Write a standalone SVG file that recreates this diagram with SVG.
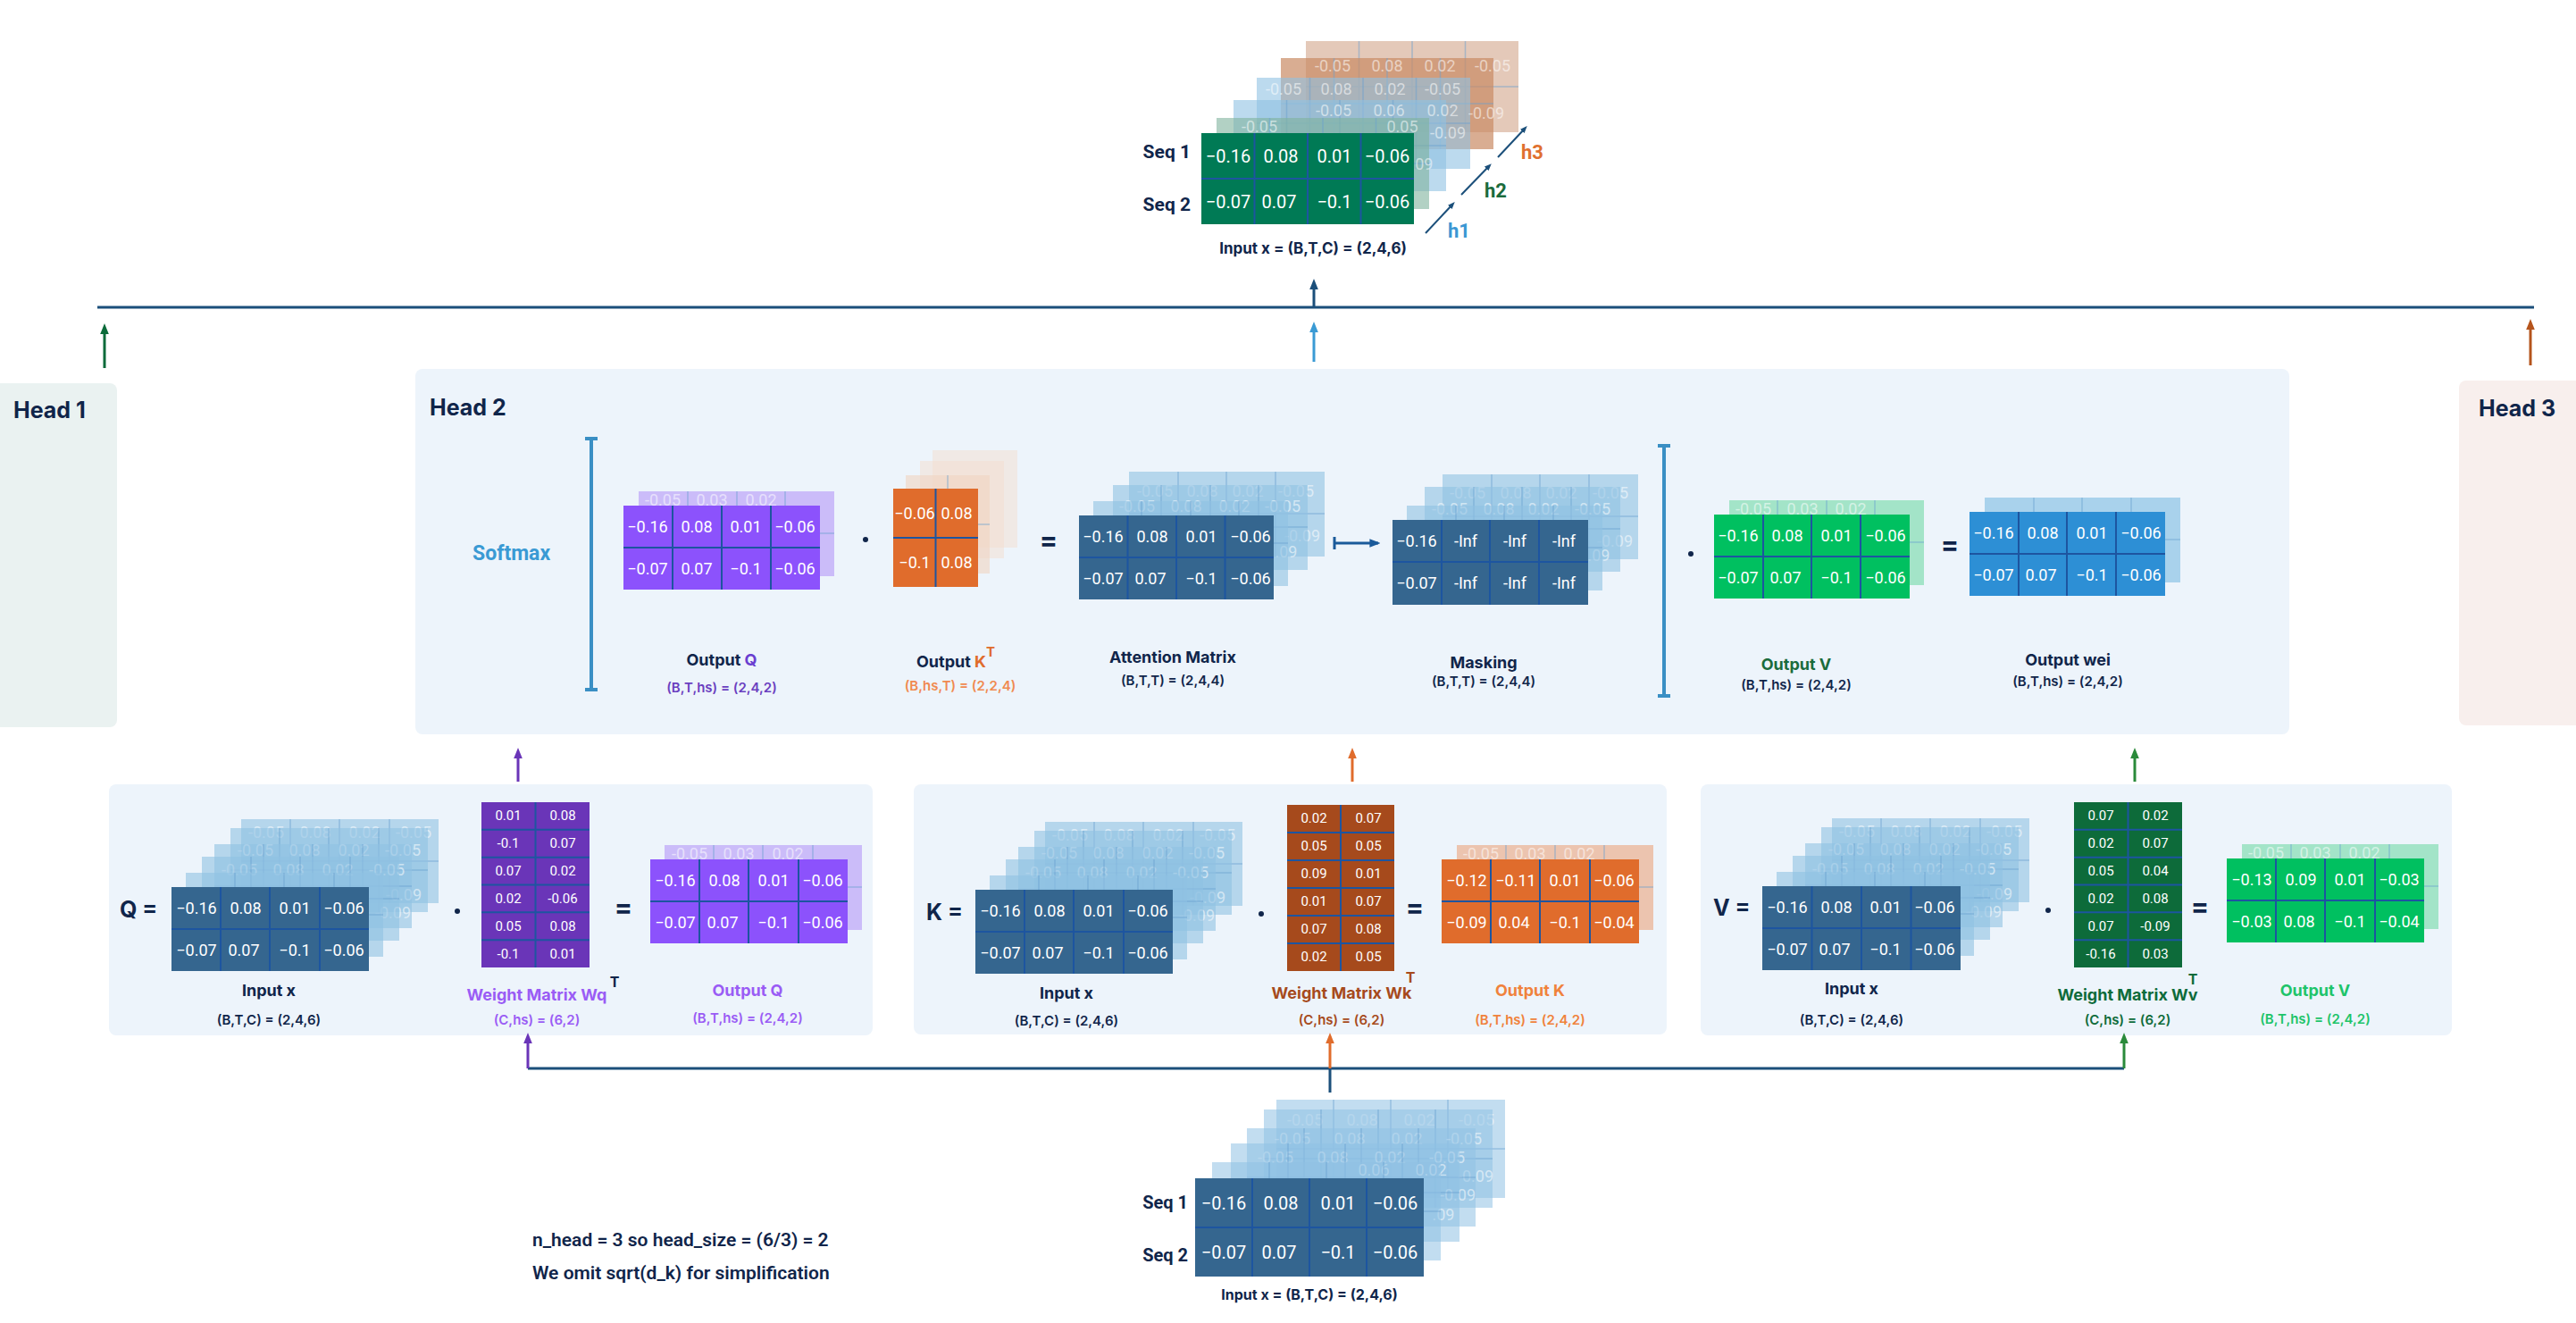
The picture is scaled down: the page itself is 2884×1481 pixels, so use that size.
<svg xmlns="http://www.w3.org/2000/svg" width="2884" height="1481" viewBox="0 0 2884 1481">
<style>
text{font-family:Roboto,"Liberation Sans",sans-serif}
.lb{font-family:Inter,"Liberation Sans",sans-serif;font-weight:700;font-size:18px;fill:#10254a;text-anchor:middle}
.dm{font-family:Inter,"Liberation Sans",sans-serif;font-weight:600;font-size:15px;fill:#10254a;text-anchor:middle}
.hd{font-family:Inter,"Liberation Sans",sans-serif;font-weight:700;font-size:25px;fill:#10254a}
.ft{fill:#fff;font-size:18px;text-anchor:middle}
.fb{fill:#fff;font-size:20px;text-anchor:middle}
.fs{fill:#fff;font-size:15px;text-anchor:middle}
.bt{fill:#fff;fill-opacity:.55;font-size:18px;text-anchor:middle}
.bk{fill:#8fc1e3;fill-opacity:.6}
.gl{fill:none;stroke:#1d55a0;stroke-width:2}
.gb{fill:none;stroke:#6a9fcf;stroke-opacity:.5;stroke-width:1.5}
.op{font-family:Inter,"Liberation Sans",sans-serif;font-weight:700;font-size:30px;fill:#10254a;text-anchor:middle}
</style>
<defs>
<marker id="aD" viewBox="0 0 10 10" refX="5" refY="5" markerWidth="4" markerHeight="4" orient="auto"><path d="M0,1L10,5L0,9z" fill="#1b4f7a"/></marker>
<marker id="aG" viewBox="0 0 10 10" refX="5" refY="5" markerWidth="4" markerHeight="4" orient="auto"><path d="M0,1L10,5L0,9z" fill="#0b6b3a"/></marker>
<marker id="aB" viewBox="0 0 10 10" refX="5" refY="5" markerWidth="4" markerHeight="4" orient="auto"><path d="M0,1L10,5L0,9z" fill="#3a9ad4"/></marker>
<marker id="aO" viewBox="0 0 10 10" refX="5" refY="5" markerWidth="4" markerHeight="4" orient="auto"><path d="M0,1L10,5L0,9z" fill="#b5541c"/></marker>
<marker id="aP" viewBox="0 0 10 10" refX="5" refY="5" markerWidth="4" markerHeight="4" orient="auto"><path d="M0,1L10,5L0,9z" fill="#6a35b8"/></marker>
<marker id="aO2" viewBox="0 0 10 10" refX="5" refY="5" markerWidth="4" markerHeight="4" orient="auto"><path d="M0,1L10,5L0,9z" fill="#e06c2c"/></marker>
<marker id="aG2" viewBox="0 0 10 10" refX="5" refY="5" markerWidth="4" markerHeight="4" orient="auto"><path d="M0,1L10,5L0,9z" fill="#2a8a3a"/></marker>
<marker id="aS" viewBox="0 0 10 10" refX="8" refY="5" markerWidth="4" markerHeight="4" orient="auto"><path d="M0,1L10,5L0,9z" fill="#1a5a9a"/></marker>
</defs>
<rect width="2884" height="1481" fill="#fff"/>

<g id="head1"><rect x="-10" y="429" width="141" height="385" rx="8" fill="#eaf2f1"/><text class="hd" x="15" y="468">Head 1</text></g>
<g id="head3"><rect x="2753" y="426" width="141" height="386" rx="8" fill="#f8efed"/><text class="hd" x="2775" y="466">Head 3</text></g>
<g id="head2"><rect x="465" y="413" width="2098" height="409" rx="8" fill="#edf4fb"/><text class="hd" x="481" y="465">Head 2</text>
<text x="529" y="627" font-size="23" font-weight="700" fill="#3a9ad4" font-family="Inter,'Liberation Sans',sans-serif">Softmax</text>
<path d="M662,491V772M655,491H669M655,772H669" stroke="#3a8fc4" stroke-width="4" fill="none"/>
<path d="M1863,499V779M1856,499H1870M1856,779H1870" stroke="#3a8fc4" stroke-width="4" fill="none"/>
</g>
<rect x="122" y="878" width="855" height="281" rx="8" fill="#edf4fb"/>
<rect x="1023" y="878" width="843" height="280" rx="8" fill="#edf4fb"/>
<rect x="1904" y="878" width="841" height="281" rx="8" fill="#edf4fb"/>

<g id="connectors" fill="none" stroke-width="3">
<path d="M109,344H2837" stroke="#1b4f7a"/>
<path d="M1471,344V318" stroke="#1b4f7a" marker-end="url(#aD)"/>
<path d="M117,412V368" stroke="#0b6b3a" marker-end="url(#aG)"/>
<path d="M1471,405V366" stroke="#3a9ad4" marker-end="url(#aB)"/>
<path d="M2833,409V363" stroke="#b5541c" marker-end="url(#aO)"/>
<path d="M580,875V843" stroke="#6a35b8" marker-end="url(#aP)"/>
<path d="M1514,875V843" stroke="#e06c2c" marker-end="url(#aO2)"/>
<path d="M2390,875V843" stroke="#2a8a3a" marker-end="url(#aG2)"/>
<path d="M591,1196H2378M1489,1223V1196" stroke="#1b4f7a"/>
<path d="M591,1196V1162" stroke="#6a35b8" marker-end="url(#aP)"/>
<path d="M1489,1196V1162" stroke="#e06c2c" marker-end="url(#aO2)"/>
<path d="M2378,1196V1162" stroke="#2a8a3a" marker-end="url(#aG2)"/>
<path d="M1494,608H1543" stroke="#1a5a9a" marker-end="url(#aS)"/>
<path d="M1494,601V615" stroke="#1a5a9a"/>
<path d="M1596,261L1626,229" stroke="#1b4f7a" stroke-width="2" marker-end="url(#aD)"/>
<path d="M1636,218L1667,186" stroke="#1b4f7a" stroke-width="2" marker-end="url(#aD)"/>
<path d="M1677,176L1707,144" stroke="#1b4f7a" stroke-width="2" marker-end="url(#aD)"/>
</g>

<g id="top-input">
<rect x="1462" y="46" width="238" height="102" fill="#d9b29b" fill-opacity=".7"/><path class="gb" d="M1521.5,46v102M1581,46v102M1640.5,46v102M1462,97h238"/>
<rect x="1434" y="65" width="238" height="102" fill="#c98a64" fill-opacity=".7"/><path class="gb" d="M1493.5,65v102M1553,65v102M1612.5,65v102M1434,116h238"/>
<text class="bt" font-size="19"><tspan x="1492" y="80">-0.05</tspan><tspan x="1553" y="80">0.08</tspan><tspan x="1612" y="80">0.02</tspan><tspan x="1671" y="80">-0.05</tspan></text>
<rect x="1407" y="87" width="239" height="102" class="bk"/><path class="gb" d="M1466.5,87v102M1526,87v102M1585.5,87v102M1407,138h239"/>
<text class="bt" font-size="19"><tspan x="1437" y="106">-0.05</tspan><tspan x="1496" y="106">0.08</tspan><tspan x="1556" y="106">0.02</tspan><tspan x="1615" y="106">-0.05</tspan><tspan x="1664" y="133">-0.09</tspan></text>
<rect x="1381" y="112" width="238" height="102" class="bk"/><path class="gb" d="M1440.5,112v102M1500,112v102M1559.5,112v102M1381,163h238"/>
<text class="bt" font-size="19"><tspan x="1493" y="130">-0.05</tspan><tspan x="1555" y="130">0.06</tspan><tspan x="1615" y="130">0.02</tspan><tspan x="1621" y="155">-0.09</tspan></text>
<rect x="1362" y="132" width="238" height="102" fill="#7fb39d" fill-opacity=".6"/><path class="gb" d="M1421.5,132v102M1481,132v102M1540.5,132v102M1362,183h238"/>
<text class="bt" font-size="19"><tspan x="1410" y="148">-0.05</tspan><tspan x="1570" y="148">0.05</tspan><tspan x="1592" y="190">.09</tspan></text>
<rect x="1345" y="149" width="238" height="102" fill="#007a55"/><path class="gl" d="M1404.5,149v102M1464,149v102M1523.5,149v102M1345,200h238"/>
<text class="fb"><tspan x="1375" y="182">−0.16</tspan><tspan x="1434" y="182">0.08</tspan><tspan x="1494" y="182">0.01</tspan><tspan x="1553" y="182">−0.06</tspan><tspan x="1375" y="233">−0.07</tspan><tspan x="1432" y="233">0.07</tspan><tspan x="1494" y="233">−0.1</tspan><tspan x="1553" y="233">−0.06</tspan></text>
<text x="1333" y="177" font-size="21" font-weight="700" fill="#10254a" text-anchor="end" font-family="Inter,'Liberation Sans',sans-serif">Seq 1</text>
<text x="1333" y="236" font-size="21" font-weight="700" fill="#10254a" text-anchor="end" font-family="Inter,'Liberation Sans',sans-serif">Seq 2</text>
<text class="dm" x="1470" y="284" style="font-size:17px;font-weight:700">Input x = (B,T,C) = (2,4,6)</text>
<text x="1621" y="266" font-size="22" font-weight="700" fill="#3b97d3" font-family="Inter,'Liberation Sans',sans-serif">h1</text>
<text x="1662" y="221" font-size="22" font-weight="700" fill="#1a6b3c" font-family="Inter,'Liberation Sans',sans-serif">h2</text>
<text x="1703" y="178" font-size="22" font-weight="700" fill="#e07030" font-family="Inter,'Liberation Sans',sans-serif">h3</text>
</g>

<g id="h2-outq">
<rect x="715" y="550" width="219" height="95" fill="#cbbcf9"/><path class="gb" d="M770,550v95M825,550v95M879,550v95M715,597h219"/>
<text class="bt"><tspan x="742" y="566">-0.05</tspan><tspan x="797" y="566">0.03</tspan><tspan x="852" y="566">0.02</tspan></text>
<rect x="698" y="566" width="220" height="94" fill="#8c52fc"/><path class="gl" d="M753,566v94M808,566v94M863,566v94M698,613h220"/>
<text class="ft"><tspan x="725" y="596">−0.16</tspan><tspan x="780" y="596">0.08</tspan><tspan x="835" y="596">0.01</tspan><tspan x="890" y="596">−0.06</tspan><tspan x="725" y="643">−0.07</tspan><tspan x="780" y="643">0.07</tspan><tspan x="835" y="643">−0.1</tspan><tspan x="890" y="643">−0.06</tspan></text>
<text class="lb" x="808" y="745">Output <tspan fill="#6a3fd0">Q</tspan></text>
<text class="dm" x="808" y="775" style="fill:#6a3fc0">(B,T,hs) = (2,4,2)</text>
</g>
<circle cx="969" cy="604" r="3" fill="#10254a"/>
<g id="h2-outkt">
<rect x="1044" y="504" width="95" height="109" fill="#f3ddd0" fill-opacity=".5"/>
<rect x="1030" y="516" width="94" height="109" fill="#f3ddd0" fill-opacity=".5"/>
<rect x="1014" y="532" width="94" height="110" fill="#f0d4c2" fill-opacity=".6"/><path class="gb" d="M1061,532v110M1014,587h94"/>
<rect x="1000" y="547" width="95" height="110" fill="#e06c2c"/><path class="gl" d="M1047.5,547v110M1000,602h95"/>
<text class="ft"><tspan x="1024" y="581">−0.06</tspan><tspan x="1071" y="581">0.08</tspan><tspan x="1024" y="636">−0.1</tspan><tspan x="1071" y="636">0.08</tspan></text>
<text class="lb" x="1070" y="747">Output <tspan fill="#e06c2c">K</tspan><tspan fill="#e06c2c" dy="-12" font-size="15">T</tspan></text>
<text class="dm" x="1075" y="773" style="fill:#f08a50">(B,hs,T) = (2,2,4)</text>
</g>
<text class="op" x="1174" y="615">=</text>
<g id="h2-att">
<rect x="1264" y="528" width="219" height="95" class="bk"/><path class="gb" d="M1319,528v95M1373,528v95M1428,528v95M1264,575h219"/>
<text class="bt"><tspan x="1293" y="556">-0.05</tspan><tspan x="1346" y="556">0.08</tspan><tspan x="1397" y="556">0.02</tspan><tspan x="1451" y="556">-0.05</tspan><tspan x="1458" y="606">-0.09</tspan></text>
<rect x="1246" y="543" width="218" height="95" class="bk"/><path class="gb" d="M1300,543v95M1355,543v95M1409,543v95M1246,590h218"/>
<text class="bt"><tspan x="1273" y="573">-0.05</tspan><tspan x="1328" y="573">0.08</tspan><tspan x="1382" y="573">0.02</tspan><tspan x="1436" y="573">-0.05</tspan><tspan x="1440" y="624">.09</tspan></text>
<rect x="1224" y="561" width="218" height="95" class="bk"/><path class="gb" d="M1278,561v95M1333,561v95M1387,561v95M1224,608h218"/>
<rect x="1208" y="577" width="218" height="94" fill="#35668f"/><path class="gl" d="M1262.5,577v94M1317,577v94M1371.5,577v94M1208,624h218"/>
<text class="ft"><tspan x="1235" y="607">−0.16</tspan><tspan x="1290" y="607">0.08</tspan><tspan x="1345" y="607">0.01</tspan><tspan x="1400" y="607">−0.06</tspan><tspan x="1235" y="654">−0.07</tspan><tspan x="1288" y="654">0.07</tspan><tspan x="1345" y="654">−0.1</tspan><tspan x="1400" y="654">−0.06</tspan></text>
<text class="lb" x="1313" y="742">Attention Matrix</text>
<text class="dm" x="1313" y="767">(B,T,T) = (2,4,4)</text>
</g>
<g id="h2-mask">
<rect x="1615" y="531" width="219" height="95" class="bk"/><path class="gb" d="M1670,531v95M1724,531v95M1779,531v95M1615,578h219"/>
<text class="bt"><tspan x="1643" y="558">-0.05</tspan><tspan x="1697" y="558">0.08</tspan><tspan x="1748" y="558">0.02</tspan><tspan x="1803" y="558">-0.05</tspan><tspan x="1808" y="612">-0.09</tspan></text>
<rect x="1595" y="545" width="219" height="95" class="bk"/><path class="gb" d="M1650,545v95M1704,545v95M1759,545v95M1595,592h219"/>
<text class="bt"><tspan x="1623" y="576">-0.05</tspan><tspan x="1678" y="576">0.08</tspan><tspan x="1728" y="576">0.02</tspan><tspan x="1783" y="576">-0.05</tspan><tspan x="1790" y="628">.09</tspan></text>
<rect x="1575" y="566" width="219" height="95" class="bk"/><path class="gb" d="M1630,566v95M1684,566v95M1739,566v95M1575,613h219"/>
<rect x="1559" y="582" width="219" height="95" fill="#35668f"/><path class="gl" d="M1614,582v95M1668,582v95M1723,582v95M1559,629h219"/>
<text class="ft"><tspan x="1586" y="612">−0.16</tspan><tspan x="1641" y="612">-Inf</tspan><tspan x="1696" y="612">-Inf</tspan><tspan x="1751" y="612">-Inf</tspan><tspan x="1586" y="659">−0.07</tspan><tspan x="1641" y="659">-Inf</tspan><tspan x="1696" y="659">-Inf</tspan><tspan x="1751" y="659">-Inf</tspan></text>
<text class="lb" x="1661" y="748">Masking</text>
<text class="dm" x="1661" y="768">(B,T,T) = (2,4,4)</text>
</g>
<circle cx="1893" cy="620" r="3" fill="#10254a"/>
<g id="h2-outv">
<rect x="1936" y="560" width="218" height="95" fill="#a3e4c8"/><path class="gb" d="M1990,560v95M2045,560v95M2099,560v95M1936,607h218"/>
<text class="bt"><tspan x="1963" y="576">-0.05</tspan><tspan x="2018" y="576">0.03</tspan><tspan x="2072" y="576">0.02</tspan></text>
<rect x="1919" y="576" width="219" height="94" fill="#00c060"/><path class="gl" d="M1974,576v94M2028,576v94M2083,576v94M1919,623h219"/>
<text class="ft"><tspan x="1946" y="606">−0.16</tspan><tspan x="2001" y="606">0.08</tspan><tspan x="2056" y="606">0.01</tspan><tspan x="2111" y="606">−0.06</tspan><tspan x="1946" y="653">−0.07</tspan><tspan x="1999" y="653">0.07</tspan><tspan x="2056" y="653">−0.1</tspan><tspan x="2111" y="653">−0.06</tspan></text>
<text class="lb" x="2011" y="750" style="fill:#1a6b3c">Output V</text>
<text class="dm" x="2011" y="772">(B,T,hs) = (2,4,2)</text>
</g>
<text class="op" x="2183" y="620">=</text>
<g id="h2-wei">
<rect x="2222" y="557" width="219" height="95" fill="#a9d2ec"/><path class="gb" d="M2277,557v95M2331,557v95M2386,557v95M2222,604h219"/>
<rect x="2205" y="573" width="219" height="94" fill="#2d8fd5"/><path class="gl" d="M2260,573v94M2314,573v94M2369,573v94M2205,620h219"/>
<text class="ft"><tspan x="2232" y="603">−0.16</tspan><tspan x="2287" y="603">0.08</tspan><tspan x="2342" y="603">0.01</tspan><tspan x="2397" y="603">−0.06</tspan><tspan x="2232" y="650">−0.07</tspan><tspan x="2285" y="650">0.07</tspan><tspan x="2342" y="650">−0.1</tspan><tspan x="2397" y="650">−0.06</tspan></text>
<text class="lb" x="2315" y="745">Output wei</text>
<text class="dm" x="2315" y="768">(B,T,hs) = (2,4,2)</text>
</g>

<g id="q-panel">
<text class="op" x="134" y="1027" style="text-anchor:start;font-size:25px">Q =</text>
<g id="q-input">
<rect x="270" y="917" width="221" height="94" class="bk"/><path class="gb" d="M325,917v94M380,917v94M436,917v94M270,964h221"/>
<text class="bt"><tspan x="298" y="938">-0.05</tspan><tspan x="353" y="938">0.08</tspan><tspan x="408" y="938">0.02</tspan><tspan x="463" y="938">-0.05</tspan></text>
<rect x="258" y="927" width="221" height="94" class="bk"/><path class="gb" d="M313,927v94M368,927v94M424,927v94M258,974h221"/>
<text class="bt"><tspan x="286" y="958">-0.05</tspan><tspan x="341" y="958">0.08</tspan><tspan x="396" y="958">0.02</tspan><tspan x="451" y="958">-0.05</tspan><tspan x="452" y="1008">-0.09</tspan></text>
<rect x="240" y="945" width="221" height="94" class="bk"/><path class="gb" d="M295,945v94M350,945v94M406,945v94M240,992h221"/>
<text class="bt"><tspan x="268" y="980">-0.05</tspan><tspan x="323" y="980">0.08</tspan><tspan x="378" y="980">0.02</tspan><tspan x="433" y="980">-0.05</tspan><tspan x="440" y="1028">-0.09</tspan></text>
<rect x="226" y="959" width="221" height="94" class="bk"/><path class="gb" d="M281,959v94M336,959v94M392,959v94M226,1006h221"/>
<rect x="208" y="977" width="221" height="94" class="bk"/><path class="gb" d="M263,977v94M318,977v94M374,977v94M208,1024h221"/>
<rect x="192" y="993" width="221" height="94" fill="#35668f"/><path class="gl" d="M247,993v94M302,993v94M358,993v94M192,1040h221"/>
<text class="ft"><tspan x="220" y="1023">−0.16</tspan><tspan x="275" y="1023">0.08</tspan><tspan x="330" y="1023">0.01</tspan><tspan x="385" y="1023">−0.06</tspan><tspan x="220" y="1070">−0.07</tspan><tspan x="273" y="1070">0.07</tspan><tspan x="330" y="1070">−0.1</tspan><tspan x="385" y="1070">−0.06</tspan></text>
<text class="lb" x="301" y="1115">Input x</text>
<text class="dm" x="301" y="1147">(B,T,C) = (2,4,6)</text>
</g>
<circle cx="512" cy="1020" r="3" fill="#10254a"/>
<g id="wq">
<rect x="539" y="898" width="121" height="185" fill="#6a35b8"/><path class="gl" d="M599.5,898v185M539,928.8h121M539,959.7h121M539,990.5h121M539,1021.3h121M539,1052.2h121"/>
<text class="fs"><tspan x="569" y="918">0.01</tspan><tspan x="630" y="918">0.08</tspan><tspan x="569" y="949">-0.1</tspan><tspan x="630" y="949">0.07</tspan><tspan x="569" y="980">0.07</tspan><tspan x="630" y="980">0.02</tspan><tspan x="569" y="1011">0.02</tspan><tspan x="630" y="1011">-0.06</tspan><tspan x="569" y="1042">0.05</tspan><tspan x="630" y="1042">0.08</tspan><tspan x="569" y="1073">-0.1</tspan><tspan x="630" y="1073">0.01</tspan></text>
<text class="lb" x="601" y="1120" style="fill:#9a5cf5">Weight Matrix Wq</text>
<text class="lb" x="688" y="1105" style="font-size:16px">T</text>
<text class="dm" x="601" y="1147" style="fill:#9a5cf5">(C,hs) = (6,2)</text>
</g>
<text class="op" x="698" y="1026">=</text>
<g id="q-out">
<rect x="744" y="946" width="221" height="95" fill="#cbbcf9"/><path class="gb" d="M799,946v95M854,946v95M910,946v95M744,993h221"/>
<text class="bt"><tspan x="772" y="962">-0.05</tspan><tspan x="827" y="962">0.03</tspan><tspan x="882" y="962">0.02</tspan></text>
<rect x="728" y="962" width="221" height="94" fill="#8c52fc"/><path class="gl" d="M783,962v94M838,962v94M894,962v94M728,1009h221"/>
<text class="ft"><tspan x="756" y="992">−0.16</tspan><tspan x="811" y="992">0.08</tspan><tspan x="866" y="992">0.01</tspan><tspan x="921" y="992">−0.06</tspan><tspan x="756" y="1039">−0.07</tspan><tspan x="809" y="1039">0.07</tspan><tspan x="866" y="1039">−0.1</tspan><tspan x="921" y="1039">−0.06</tspan></text>
<text class="lb" x="837" y="1115" style="fill:#9a5cf5">Output Q</text>
<text class="dm" x="837" y="1145" style="fill:#9a5cf5">(B,T,hs) = (2,4,2)</text>
</g>
</g>

<g id="k-panel">
<text class="op" x="1037" y="1030" style="text-anchor:start;font-size:25px">K =</text>
<g id="k-input">
<rect x="1170" y="920" width="221" height="94" class="bk"/><path class="gb" d="M1225,920v94M1280,920v94M1336,920v94M1170,967h221"/>
<text class="bt"><tspan x="1198" y="941">-0.05</tspan><tspan x="1253" y="941">0.08</tspan><tspan x="1308" y="941">0.02</tspan><tspan x="1363" y="941">-0.05</tspan></text>
<rect x="1158" y="930" width="221" height="94" class="bk"/><path class="gb" d="M1213,930v94M1268,930v94M1324,930v94M1158,977h221"/>
<text class="bt"><tspan x="1186" y="961">-0.05</tspan><tspan x="1241" y="961">0.08</tspan><tspan x="1296" y="961">0.02</tspan><tspan x="1351" y="961">-0.05</tspan><tspan x="1352" y="1011">-0.09</tspan></text>
<rect x="1140" y="948" width="221" height="94" class="bk"/><path class="gb" d="M1195,948v94M1250,948v94M1306,948v94M1140,995h221"/>
<text class="bt"><tspan x="1168" y="983">-0.05</tspan><tspan x="1223" y="983">0.08</tspan><tspan x="1278" y="983">0.02</tspan><tspan x="1333" y="983">-0.05</tspan><tspan x="1340" y="1031">-0.09</tspan></text>
<rect x="1126" y="962" width="221" height="94" class="bk"/><path class="gb" d="M1181,962v94M1236,962v94M1292,962v94M1126,1009h221"/>
<rect x="1108" y="980" width="221" height="94" class="bk"/><path class="gb" d="M1163,980v94M1218,980v94M1274,980v94M1108,1027h221"/>
<rect x="1092" y="996" width="221" height="94" fill="#35668f"/><path class="gl" d="M1147,996v94M1202,996v94M1258,996v94M1092,1043h221"/>
<text class="ft"><tspan x="1120" y="1026">−0.16</tspan><tspan x="1175" y="1026">0.08</tspan><tspan x="1230" y="1026">0.01</tspan><tspan x="1285" y="1026">−0.06</tspan><tspan x="1120" y="1073">−0.07</tspan><tspan x="1173" y="1073">0.07</tspan><tspan x="1230" y="1073">−0.1</tspan><tspan x="1285" y="1073">−0.06</tspan></text>
<text class="lb" x="1194" y="1118">Input x</text>
<text class="dm" x="1194" y="1148">(B,T,C) = (2,4,6)</text>
</g>
<circle cx="1412" cy="1023" r="3" fill="#10254a"/>
<g id="wk">
<rect x="1441" y="901" width="120" height="186" fill="#a64a1c"/><path class="gl" d="M1501,901v186M1441,932h120M1441,963h120M1441,994h120M1441,1025h120M1441,1056h120"/>
<text class="fs"><tspan x="1471" y="921">0.02</tspan><tspan x="1532" y="921">0.07</tspan><tspan x="1471" y="952">0.05</tspan><tspan x="1532" y="952">0.05</tspan><tspan x="1471" y="983">0.09</tspan><tspan x="1532" y="983">0.01</tspan><tspan x="1471" y="1014">0.01</tspan><tspan x="1532" y="1014">0.07</tspan><tspan x="1471" y="1045">0.07</tspan><tspan x="1532" y="1045">0.08</tspan><tspan x="1471" y="1076">0.02</tspan><tspan x="1532" y="1076">0.05</tspan></text>
<text class="lb" x="1502" y="1118" style="fill:#a64a1c">Weight Matrix Wk</text>
<text class="lb" x="1579" y="1100" style="font-size:16px;fill:#a64a1c">T</text>
<text class="dm" x="1502" y="1147" style="fill:#a64a1c">(C,hs) = (6,2)</text>
</g>
<text class="op" x="1584" y="1026">=</text>
<g id="k-out">
<rect x="1631" y="946" width="220" height="95" fill="#ecc4af"/><path class="gb" d="M1686,946v95M1741,946v95M1796,946v95M1631,993h220"/>
<text class="bt"><tspan x="1658" y="962">-0.05</tspan><tspan x="1713" y="962">0.03</tspan><tspan x="1768" y="962">0.02</tspan></text>
<rect x="1614" y="962" width="221" height="94" fill="#e06c2c"/><path class="gl" d="M1669,962v94M1724,962v94M1780,962v94M1614,1009h221"/>
<text class="ft"><tspan x="1642" y="992">−0.12</tspan><tspan x="1697" y="992">−0.11</tspan><tspan x="1752" y="992">0.01</tspan><tspan x="1807" y="992">−0.06</tspan><tspan x="1642" y="1039">−0.09</tspan><tspan x="1695" y="1039">0.04</tspan><tspan x="1752" y="1039">−0.1</tspan><tspan x="1807" y="1039">−0.04</tspan></text>
<text class="lb" x="1713" y="1115" style="fill:#f0823c">Output K</text>
<text class="dm" x="1713" y="1147" style="fill:#f0823c">(B,T,hs) = (2,4,2)</text>
</g>
</g>

<g id="v-panel">
<text class="op" x="1918" y="1025" style="text-anchor:start;font-size:25px">V =</text>
<g id="v-input">
<rect x="2051" y="916" width="221" height="94" class="bk"/><path class="gb" d="M2106,916v94M2161,916v94M2217,916v94M2051,963h221"/>
<text class="bt"><tspan x="2079" y="937">-0.05</tspan><tspan x="2134" y="937">0.08</tspan><tspan x="2189" y="937">0.02</tspan><tspan x="2244" y="937">-0.05</tspan></text>
<rect x="2039" y="926" width="221" height="94" class="bk"/><path class="gb" d="M2094,926v94M2149,926v94M2205,926v94M2039,973h221"/>
<text class="bt"><tspan x="2067" y="957">-0.05</tspan><tspan x="2122" y="957">0.08</tspan><tspan x="2177" y="957">0.02</tspan><tspan x="2232" y="957">-0.05</tspan><tspan x="2233" y="1007">-0.09</tspan></text>
<rect x="2021" y="944" width="221" height="94" class="bk"/><path class="gb" d="M2076,944v94M2131,944v94M2187,944v94M2021,991h221"/>
<text class="bt"><tspan x="2049" y="979">-0.05</tspan><tspan x="2104" y="979">0.08</tspan><tspan x="2159" y="979">0.02</tspan><tspan x="2214" y="979">-0.05</tspan><tspan x="2221" y="1027">-0.09</tspan></text>
<rect x="2007" y="958" width="221" height="94" class="bk"/><path class="gb" d="M2062,958v94M2117,958v94M2173,958v94M2007,1005h221"/>
<rect x="1989" y="976" width="221" height="94" class="bk"/><path class="gb" d="M2044,976v94M2099,976v94M2155,976v94M1989,1023h221"/>
<rect x="1973" y="992" width="222" height="94" fill="#35668f"/><path class="gl" d="M2028.5,992v94M2084,992v94M2139.5,992v94M1973,1039h222"/>
<text class="ft"><tspan x="2001" y="1022">−0.16</tspan><tspan x="2056" y="1022">0.08</tspan><tspan x="2111" y="1022">0.01</tspan><tspan x="2166" y="1022">−0.06</tspan><tspan x="2001" y="1069">−0.07</tspan><tspan x="2054" y="1069">0.07</tspan><tspan x="2111" y="1069">−0.1</tspan><tspan x="2166" y="1069">−0.06</tspan></text>
<text class="lb" x="2073" y="1113">Input x</text>
<text class="dm" x="2073" y="1147">(B,T,C) = (2,4,6)</text>
</g>
<circle cx="2293" cy="1019" r="3" fill="#10254a"/>
<g id="wv">
<rect x="2322" y="898" width="121" height="185" fill="#0d6b3a"/><path class="gl" d="M2382.5,898v185M2322,928.8h121M2322,959.7h121M2322,990.5h121M2322,1021.3h121M2322,1052.2h121"/>
<text class="fs"><tspan x="2352" y="918">0.07</tspan><tspan x="2413" y="918">0.02</tspan><tspan x="2352" y="949">0.02</tspan><tspan x="2413" y="949">0.07</tspan><tspan x="2352" y="980">0.05</tspan><tspan x="2413" y="980">0.04</tspan><tspan x="2352" y="1011">0.02</tspan><tspan x="2413" y="1011">0.08</tspan><tspan x="2352" y="1042">0.07</tspan><tspan x="2413" y="1042">-0.09</tspan><tspan x="2352" y="1073">-0.16</tspan><tspan x="2413" y="1073">0.03</tspan></text>
<text class="lb" x="2382" y="1120" style="fill:#0d6b3a">Weight Matrix Wv</text>
<text class="lb" x="2455" y="1102" style="font-size:16px;fill:#0d6b3a">T</text>
<text class="dm" x="2382" y="1147" style="fill:#0d6b3a">(C,hs) = (6,2)</text>
</g>
<text class="op" x="2463" y="1025">=</text>
<g id="v-out">
<rect x="2510" y="945" width="220" height="95" fill="#a3e4c8"/><path class="gb" d="M2565,945v95M2620,945v95M2675,945v95M2510,992h220"/>
<text class="bt"><tspan x="2537" y="961">-0.05</tspan><tspan x="2592" y="961">0.03</tspan><tspan x="2647" y="961">0.02</tspan></text>
<rect x="2493" y="961" width="221" height="94" fill="#00c060"/><path class="gl" d="M2548,961v94M2603,961v94M2659,961v94M2493,1008h221"/>
<text class="ft"><tspan x="2521" y="991">−0.13</tspan><tspan x="2576" y="991">0.09</tspan><tspan x="2631" y="991">0.01</tspan><tspan x="2686" y="991">−0.03</tspan><tspan x="2521" y="1038">−0.03</tspan><tspan x="2574" y="1038">0.08</tspan><tspan x="2631" y="1038">−0.1</tspan><tspan x="2686" y="1038">−0.04</tspan></text>
<text class="lb" x="2592" y="1115" style="fill:#1ec46a">Output V</text>
<text class="dm" x="2592" y="1146" style="fill:#1ec46a">(B,T,hs) = (2,4,2)</text>
</g>
</g>

<g id="bottom-input">
<rect x="1429" y="1231" width="256" height="110" class="bk" style="fill-opacity:.55"/><path class="gb" d="M1493,1231v110M1557,1231v110M1621,1231v110M1429,1286h256"/>
<text class="bt" font-size="20"><tspan x="1461" y="1260">-0.05</tspan><tspan x="1525" y="1260">0.08</tspan><tspan x="1589" y="1260">0.02</tspan><tspan x="1653" y="1260">-0.05</tspan></text>
<rect x="1415" y="1242" width="256" height="110" class="bk" style="fill-opacity:.55"/><path class="gb" d="M1479,1242v110M1543,1242v110M1607,1242v110M1415,1297h256"/>
<text class="bt" font-size="20"><tspan x="1447" y="1281">-0.05</tspan><tspan x="1511" y="1281">0.08</tspan><tspan x="1575" y="1281">0.02</tspan><tspan x="1639" y="1281">-0.05</tspan><tspan x="1652" y="1323">-0.09</tspan></text>
<rect x="1396" y="1263" width="256" height="110" class="bk" style="fill-opacity:.55"/><path class="gb" d="M1460,1263v110M1524,1263v110M1588,1263v110M1396,1318h256"/>
<text class="bt" font-size="20"><tspan x="1428" y="1302">-0.05</tspan><tspan x="1492" y="1302">0.08</tspan><tspan x="1556" y="1302">0.02</tspan><tspan x="1620" y="1302">-0.05</tspan><tspan x="1632" y="1344">-0.09</tspan></text>
<rect x="1378" y="1280" width="256" height="110" class="bk" style="fill-opacity:.55"/><path class="gb" d="M1442,1280v110M1506,1280v110M1570,1280v110M1378,1335h256"/>
<text class="bt" font-size="20"><tspan x="1538" y="1316">0.06</tspan><tspan x="1602" y="1316">0.02</tspan><tspan x="1616" y="1366">.09</tspan></text>
<rect x="1357" y="1301" width="256" height="110" class="bk" style="fill-opacity:.55"/><path class="gb" d="M1421,1301v110M1485,1301v110M1549,1301v110M1357,1356h256"/>
<rect x="1338" y="1319" width="256" height="110" fill="#35668f"/><path class="gl" d="M1402,1319v110M1466,1319v110M1530,1319v110M1338,1374h256"/>
<text class="fb"><tspan x="1370" y="1354">−0.16</tspan><tspan x="1434" y="1354">0.08</tspan><tspan x="1498" y="1354">0.01</tspan><tspan x="1562" y="1354">−0.06</tspan><tspan x="1370" y="1409">−0.07</tspan><tspan x="1432" y="1409">0.07</tspan><tspan x="1498" y="1409">−0.1</tspan><tspan x="1562" y="1409">−0.06</tspan></text>
<text x="1330" y="1353" font-size="20" font-weight="700" fill="#10254a" text-anchor="end" font-family="Inter,'Liberation Sans',sans-serif">Seq 1</text>
<text x="1330" y="1412" font-size="20" font-weight="700" fill="#10254a" text-anchor="end" font-family="Inter,'Liberation Sans',sans-serif">Seq 2</text>
<text class="dm" x="1466" y="1455" style="font-size:16px;font-weight:700">Input x = (B,T,C) = (2,4,6)</text>
</g>

<g id="notes" font-family="Inter,'Liberation Sans',sans-serif" font-size="21" font-weight="600" fill="#10254a">
<text x="596" y="1395">n_head = 3 so head_size = (6/3) = 2</text>
<text x="596" y="1432">We omit sqrt(d_k) for simplification</text>
</g>
</svg>
